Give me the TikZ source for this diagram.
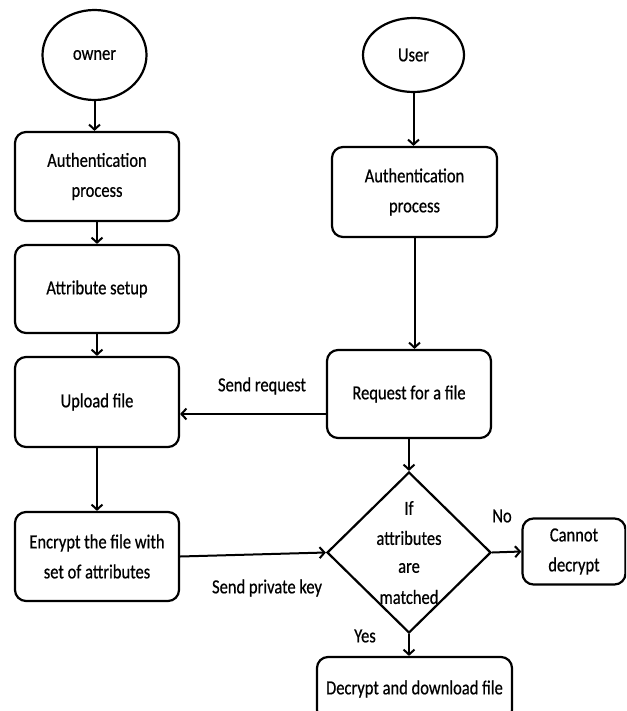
\documentclass[tikz,border=0pt]{standalone}
\usepackage{fontspec}
\setmainfont[FakeStretch=0.825,FakeBold=0.6]{Carlito}
\usetikzlibrary{shapes.geometric,arrows.meta}
\begin{document}
\begin{tikzpicture}[x=1pt,y=-1pt,
  every node/.style={font=\fontsize{20}{30}\selectfont},
  procbox/.style={draw,line width=2.2pt,rounded corners=11pt,align=center,inner sep=0pt},
  startnode/.style={draw,ellipse,line width=2.2pt,inner sep=0pt},
  decide/.style={draw,diamond,line width=2.2pt,inner sep=0pt,align=center},
  flow/.style={line width=2pt,-{Straight Barb[length=5pt,width=11pt,line width=2pt]}},
  lbl/.style={inner sep=0pt}]
\path[use as bounding box] (0,0) rectangle (626,711);
\clip (0,0) rectangle (626,711);

% owner column
\node[startnode,minimum width=104pt,minimum height=90pt] (owner) at (94.5,55) {owner};
\node[procbox,minimum width=164pt,minimum height=89pt] (oauth) at (97,176.5) {Authentication\\process};
\node[procbox,minimum width=164pt,minimum height=88pt] (attr) at (97,289) {Attribute setup};
\node[procbox,minimum width=164pt,minimum height=90pt] (upload) at (97,402) {Upload file};
\node[procbox,minimum width=164pt,minimum height=89pt] (encrypt) at (97,556.5) {Encrypt the file with\\set of attributes};

% user column
\node[startnode,minimum width=101pt,minimum height=74pt] (user) at (413.5,55) {User};
\node[procbox,minimum width=165pt,minimum height=90pt] (uauth) at (414.5,192) {Authentication\\process};
\node[procbox,minimum width=164pt,minimum height=88pt] (request) at (409,394) {Request for a file};
\node[decide,minimum width=164pt,minimum height=161pt] (match) at (409,552.5) {};
\node[procbox,minimum width=103pt,minimum height=66pt] (cannot) at (574,551.5) {Cannot\\decrypt};
\node[procbox,minimum width=195pt,minimum height=64pt] (decrypt) at (414.5,689) {Decrypt and download file};

% diamond text
\node[lbl] (t1) at (409,508) {If};
\node[lbl] (t2) at (409,538) {attributes};
\node[lbl] (t3) at (409,568) {are};
\node[lbl] (t4) at (409,597) {matched};

% connectors
\draw[flow] (owner.south) -- (owner.south |- oauth.north);
\draw[flow] (oauth.south) -- (attr.north);
\draw[flow] (attr.south) -- (upload.north);
\draw[flow] (upload.south) -- (encrypt.north);
\draw[flow] (user.south) -- (user.south |- uauth.north);
\draw[flow] (uauth.south) -- (uauth.south |- request.north);
\draw[flow] (request.west |- 0,414) -- (upload.east |- 0,414);
\draw[flow] (request.south -| match.north) -- (match.north);
\draw[flow] (encrypt.east) -- (match.west);
\draw[flow] (match.east) -- (cannot.west);
\draw[flow] (match.south) -- (match.south |- decrypt.north);

% labels
\node[lbl] (sreq) at (262,386) {Send request};
\node[lbl] (skey) at (267,588) {Send private key};
\node[lbl] (no) at (502,516) {No};
\node[lbl] (yes) at (365,636) {Yes};
\end{tikzpicture}
\end{document}
